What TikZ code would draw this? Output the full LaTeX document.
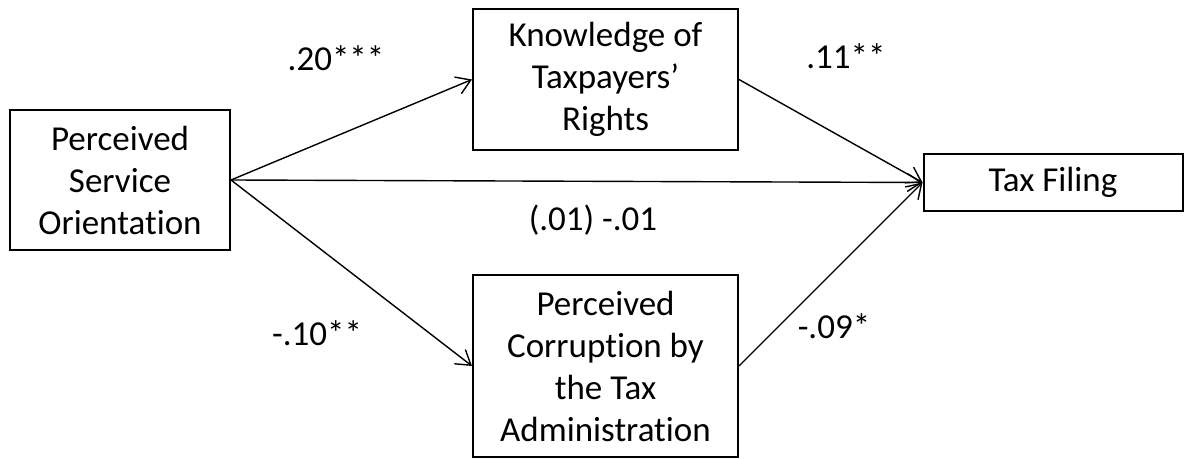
\documentclass[tikz,border=0pt]{standalone}
\usepackage{fontspec}
\setmainfont{Carlito}[Ligatures={NoCommon}]
\usetikzlibrary{arrows.meta}
\begin{document}
\begin{tikzpicture}[x=0.5pt,y=-0.5pt,
        box/.style={draw,line width=1pt,align=center,inner sep=0pt},
        path/.style={-{Straight Barb[length=7pt,width=9pt]},line width=0.7pt},
        every node/.append style={font=\fontsize{17.5}{21}\selectfont}]
        \useasboundingbox (0,0) rectangle (1184,459);

        \node[box,minimum width=110pt,minimum height=70pt](pso)at(120,180){Perceived\\Service\\Orientation};
        \node[box,minimum width=132.5pt,minimum height=70.5pt](kno)at(605.5,79.5){Knowledge of\\Taxpayers'\\Rights};
        \node[box,minimum width=132.5pt,minimum height=91pt](cor)at(605.5,366){Perceived\\Corruption by\\the Tax\\Administration};
        \node[box,minimum width=129.5pt,minimum height=28.5pt](tax)at(1053,182.5){Tax Filing};

        \draw[path](pso.east)--(kno.west);
        \draw[path](pso.east)--(cor.west);
        \draw[path](pso.east)--(tax.west);
        \draw[path](kno.east)--(tax.west);
        \draw[path](cor.east)--(tax.west);

        \node(l1)at(336,58){.20***};
        \node(l2)at(846,56){.11**};
        \node(l3)at(593,220){(.01) -.01};
        \node(l4)at(317,333){-.10**};
        \node(l5)at(834,326){-.09*};
    \end{tikzpicture}
\end{document}
